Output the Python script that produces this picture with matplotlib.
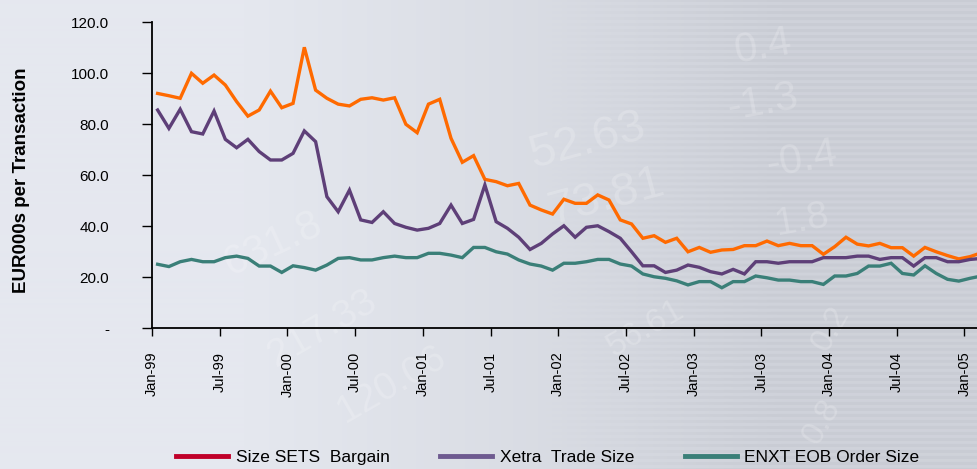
import numpy as np
import matplotlib
matplotlib.use("Agg")
import matplotlib.pyplot as plt
from matplotlib.lines import Line2D

# monthly values, Jan-99 .. Feb-05 (EUR000s per transaction)
sets_bargain = [
    92.0, 91.1, 90.1, 99.9, 96.0, 99.2, 95.3, 88.8, 83.1, 85.5, 92.9, 86.4,
    88.1, 110.1, 93.3, 90.1, 87.8, 87.1, 89.7, 90.3, 89.4, 90.3, 79.9, 76.6,
    87.8, 89.7, 74.4, 65.0, 67.6, 58.3, 57.4, 55.8, 56.7, 48.2, 46.3, 44.7,
    50.5, 48.9, 48.9, 52.2, 50.2, 42.4, 40.8, 35.2, 36.2, 33.6, 35.2, 29.9,
    31.6, 29.7, 30.6, 30.8, 32.3, 32.3, 34.1, 32.3, 33.2, 32.3, 32.3, 28.9,
    31.9, 35.6, 32.9, 32.2, 33.2, 31.5, 31.5, 28.2, 31.6, 29.9, 28.4, 27.1,
    28.0, 29.5,
]
xetra_trade = [
    85.5, 78.3, 85.8, 77.0, 76.1, 85.1, 74.0, 70.7, 74.0, 69.2, 65.9, 65.9,
    68.5, 77.3, 73.1, 51.5, 45.6, 54.1, 42.4, 41.4, 45.6, 41.0, 39.5, 38.4,
    39.1, 41.0, 48.2, 41.0, 42.6, 56.1, 41.7, 39.1, 35.6, 30.8, 33.2, 36.9,
    40.1, 35.6, 39.5, 40.1, 37.8, 35.2, 29.9, 24.4, 24.4, 21.8, 22.7, 24.7,
    23.8, 22.1, 21.2, 23.0, 21.2, 26.0, 26.0, 25.4, 26.0, 26.0, 26.0, 27.6,
    27.6, 27.6, 28.2, 28.2, 26.9, 27.6, 27.6, 24.3, 27.6, 27.6, 26.0, 26.0,
    26.9, 27.3,
]
enxt_eob = [
    25.0, 24.1, 26.0, 26.9, 26.0, 26.0, 27.6, 28.2, 27.3, 24.3, 24.3, 21.8,
    24.4, 23.7, 22.7, 24.7, 27.3, 27.6, 26.7, 26.7, 27.6, 28.2, 27.6, 27.6,
    29.3, 29.3, 28.6, 27.6, 31.6, 31.6, 29.9, 29.0, 26.7, 25.1, 24.3, 22.7,
    25.4, 25.4, 26.0, 26.9, 26.9, 25.1, 24.3, 21.2, 20.1, 19.5, 18.5, 16.9,
    18.2, 18.2, 15.8, 18.2, 18.2, 20.4, 19.7, 18.8, 18.8, 18.2, 18.2, 17.1,
    20.4, 20.4, 21.4, 24.3, 24.3, 25.4, 21.4, 20.8, 24.4, 21.4, 19.1, 18.4,
    19.5, 20.4,
]
tick_labels = ["Jan-99", "Jul-99", "Jan-00", "Jul-00", "Jan-01", "Jul-01",
               "Jan-02", "Jul-02", "Jan-03", "Jul-03", "Jan-04", "Jul-04", "Jan-05"]
series_names = ["Size SETS  Bargain", "Xetra  Trade Size", "ENXT EOB Order Size"]

plt.rcParams['font.family'] = ['Liberation Sans', 'DejaVu Sans']

fig = plt.figure(figsize=(9.78, 4.69), dpi=100)

# background: light grey-blue gradient with faint stripes on the right
bg = fig.add_axes([0, 0, 1, 1], zorder=-10)
h, w = 469, 978
xx = np.linspace(0, 1, w)
left_c = np.array([229, 232, 239]) / 255
right_c = np.array([207, 210, 218]) / 255
t = np.clip((xx - 0.25) / 0.55, 0, 1)[None, :, None]
img = left_c * (1 - t) + right_c * t
img = np.repeat(img, h, axis=0)
stripes = ((np.arange(h) // 3) % 2 == 0)[:, None, None] * np.clip((xx - 0.55) / 0.2, 0, 1)[None, :, None]
img = img - 0.022 * stripes
bg.imshow(np.clip(img, 0, 1), aspect='auto', extent=[0, 1, 0, 1])
for s, x, y, r, fs in [("0.4", 0.78, 0.90, 10, 30), ("-1.3", 0.78, 0.78, 10, 30),
                       ("-0.4", 0.82, 0.66, 10, 30), ("1.8", 0.82, 0.53, 10, 28),
                       ("52.63", 0.60, 0.70, 15, 34), ("73.81", 0.62, 0.58, 15, 34),
                       ("631.8", 0.28, 0.48, 25, 30), ("217.33", 0.33, 0.30, 30, 28),
                       ("120.06", 0.40, 0.18, 30, 28), ("56.61", 0.66, 0.30, 30, 24),
                       ("0.2", 0.85, 0.30, 60, 24), ("0.8", 0.84, 0.10, 60, 24)]:
    bg.text(x, y, s, color='white', alpha=0.2, fontsize=fs, rotation=r,
            ha='center', va='center', transform=bg.transAxes)
bg.set_axis_off()

ax = fig.add_axes([0.1554, 0.3006, 0.8446, 0.6524])
ax.patch.set_alpha(0)

x = np.arange(len(sets_bargain)) + 0.5
ax.plot(x, sets_bargain, color='#FF6A00', lw=2.4, solid_joinstyle='miter')
ax.plot(x, xetra_trade, color='#5E3F78', lw=2.4, solid_joinstyle='miter')
ax.plot(x, enxt_eob, color='#3A7F78', lw=2.4, solid_joinstyle='miter')

ax.set_xlim(0, 73.2)
ax.set_ylim(0, 120)
ax.set_yticks(np.arange(0, 121, 20))
ax.set_yticklabels(["-", "20.0", "40.0", "60.0", "80.0", "100.0", "120.0"], fontsize=11)
ax.tick_params(axis='y', direction='out', length=7, width=1, pad=24)
ax.set_xticks(np.arange(0, 73, 6))
ax.set_xticklabels(tick_labels, rotation=90, fontsize=10.5)
ax.tick_params(axis='x', direction='out', length=6, width=1, pad=11)

for side in ['top', 'right']:
    ax.spines[side].set_visible(False)
ax.spines['left'].set_linewidth(1.3)
ax.spines['bottom'].set_linewidth(1.3)

fig.text(0.022, 0.615, "EUR000s per Transaction", rotation=90, fontsize=13.5,
         fontweight='bold', ha='center', va='center')

handles = [Line2D([], [], color='#C0002A', lw=3.5),
           Line2D([], [], color='#6E5A90', lw=3.5),
           Line2D([], [], color='#3A7F78', lw=3.5)]
fig.legend(handles, series_names, loc='center', bbox_to_anchor=(0.56, 0.024),
           ncol=3, frameon=False, fontsize=12.5,
           handlelength=3.0, columnspacing=2.9, handletextpad=0.45)

fig.savefig("out.png", dpi=100)
